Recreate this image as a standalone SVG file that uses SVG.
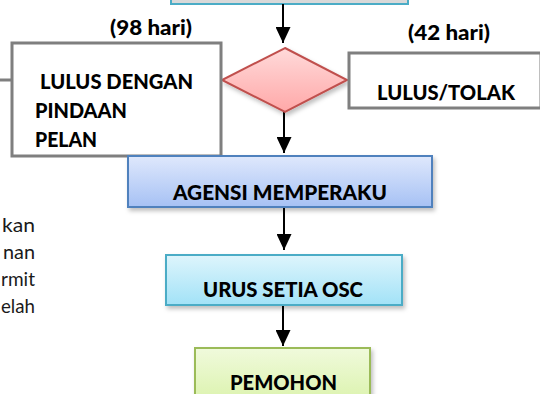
<svg xmlns="http://www.w3.org/2000/svg" width="540" height="394" viewBox="0 0 540 394">
<defs>
<linearGradient id="gBlue" x1="0" y1="0" x2="0" y2="1"><stop offset="0" stop-color="#dfe8fc"/><stop offset="1" stop-color="#a6c1f4"/></linearGradient>
<linearGradient id="gCyan" x1="0" y1="0" x2="0" y2="1"><stop offset="0" stop-color="#def5fc"/><stop offset="1" stop-color="#a2e2f7"/></linearGradient>
<linearGradient id="gGreen" x1="0" y1="0" x2="0" y2="1"><stop offset="0" stop-color="#f0fadc"/><stop offset="1" stop-color="#d9f2a8"/></linearGradient>
<linearGradient id="gPink" x1="0" y1="0" x2="0" y2="1"><stop offset="0" stop-color="#ffdada"/><stop offset="1" stop-color="#ffa8a8"/></linearGradient>
<filter id="sh" x="-10%" y="-10%" width="130%" height="140%"><feDropShadow dx="2" dy="3" stdDeviation="2" flood-color="#000" flood-opacity="0.25"/></filter>
<marker id="ah" markerWidth="16" markerHeight="15" refX="16" refY="7.5" orient="auto" markerUnits="userSpaceOnUse"><path d="M0,0 L16,7.5 L0,15 Z" fill="#000"/></marker>
</defs>
<style>
.t{font-family:Lato,"Liberation Sans",sans-serif;font-weight:900;font-size:21px;fill:#000}
.r{font-family:Lato,"Liberation Sans",sans-serif;font-size:20px;fill:#1a1a1a}
.box{stroke:#7f7f7f;stroke-width:3;fill:#fff}
.c{stroke:#000;stroke-width:2;fill:none;marker-end:url(#ah)}
</style>
<g id="top"><rect x="171" y="-20" width="237" height="24" fill="#d9d9d9" stroke="#4bacc6" stroke-width="2"/></g>
<g id="left-text">
<text class="r" x="2" y="232" textLength="33" lengthAdjust="spacingAndGlyphs">kan</text>
<text class="r" x="3" y="259" textLength="32" lengthAdjust="spacingAndGlyphs">nan</text>
<text class="r" x="1" y="286" textLength="34" lengthAdjust="spacingAndGlyphs">rmit</text>
<text class="r" x="1" y="313" textLength="34" lengthAdjust="spacingAndGlyphs">elah</text>
</g>
<g id="connectors">
<line x1="0" y1="80" x2="12" y2="80" stroke="#7f7f7f" stroke-width="3"/>
<line class="c" x1="283" y1="4" x2="283" y2="43"/>
<line class="c" x1="284" y1="112" x2="284" y2="153"/>
<line class="c" x1="284" y1="207" x2="284" y2="250"/>
<line class="c" x1="283" y1="305" x2="283" y2="346"/>
</g>
<g id="decision"><polygon points="285,48 347,80 285,112 222,80" fill="url(#gPink)" stroke="#c0504d" stroke-width="2" filter="url(#sh)"/></g>
<g id="lulus-pindaan">
<rect class="box" x="12" y="43" width="209" height="113"/>
<text class="t" x="40" y="89" textLength="153" lengthAdjust="spacingAndGlyphs">LULUS DENGAN</text>
<text class="t" x="35" y="118" textLength="92" lengthAdjust="spacingAndGlyphs">PINDAAN</text>
<text class="t" x="35" y="147" textLength="62" lengthAdjust="spacingAndGlyphs">PELAN</text>
</g>
<g id="label98"><text class="t" x="110" y="35" textLength="82" lengthAdjust="spacingAndGlyphs">(98 hari)</text></g>
<g id="label42"><text class="t" x="408" y="40" textLength="82" lengthAdjust="spacingAndGlyphs">(42 hari)</text></g>
<g id="lulus-tolak">
<rect class="box" x="349" y="53" width="192" height="55"/>
<text class="t" x="377" y="100" textLength="138" lengthAdjust="spacingAndGlyphs">LULUS/TOLAK</text>
</g>
<g id="agensi">
<rect x="128" y="156" width="304" height="51" fill="url(#gBlue)" stroke="#4f81bd" stroke-width="2" filter="url(#sh)"/>
<text class="t" x="173" y="200" textLength="214" lengthAdjust="spacingAndGlyphs">AGENSI MEMPERAKU</text>
</g>
<g id="urus-setia">
<rect x="166" y="255" width="236" height="50" fill="url(#gCyan)" stroke="#4bacc6" stroke-width="2" filter="url(#sh)"/>
<text class="t" x="203" y="297" textLength="160" lengthAdjust="spacingAndGlyphs">URUS SETIA OSC</text>
</g>
<g id="pemohon">
<rect x="195" y="348" width="175" height="60" fill="url(#gGreen)" stroke="#9bbb59" stroke-width="2" filter="url(#sh)"/>
<text class="t" x="230" y="390" textLength="107" lengthAdjust="spacingAndGlyphs">PEMOHON</text>
</g>
</svg>
